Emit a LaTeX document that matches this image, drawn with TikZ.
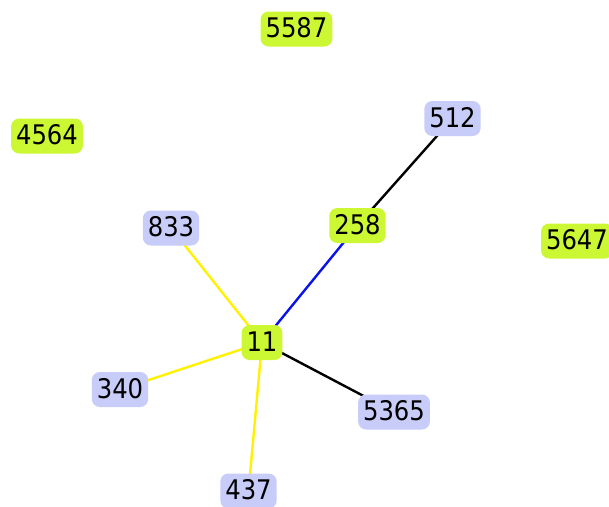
\documentclass[tikz,border=0pt]{standalone}
\usepackage{fontspec}
\setmainfont{DejaVu Sans Condensed}
\usetikzlibrary{backgrounds}
\definecolor{ngreen}{HTML}{CCF733}
\definecolor{nblue}{HTML}{C8CCF8}
\definecolor{eyellow}{HTML}{FFF200}
\definecolor{eblue}{HTML}{0A14E6}
\tikzset{
  vbox/.style={rounded corners=8pt, inner xsep=5pt, inner ysep=0pt, minimum height=35pt,
     font=\fontsize{27}{27}\selectfont, text height=20pt, text depth=3pt, anchor=center},
  gnode/.style={vbox, fill=ngreen},
  bnode/.style={vbox, fill=nblue},
  edge/.style={line width=2.4pt},
}
\begin{document}
\begin{tikzpicture}[x=1pt,y=-1pt]
\useasboundingbox (0,0) rectangle (609,506);
\node[gnode] (n5587) at (296.5,29) {5587};
\node[gnode] (n4564) at (47,136) {4564};
\node[bnode] (n512) at (452.5,118.5) {512};
\node[gnode] (n258) at (357.5,225.5) {258};
\node[bnode] (n833) at (171,228) {833};
\node[gnode] (n5647) at (577,241) {5647};
\node[gnode] (n11) at (262,342.5) {11};
\node[bnode] (n340) at (120,389.5) {340};
\node[bnode] (n5365) at (394,412) {5365};
\node[bnode] (n437) at (248.5,491) {437};
\begin{scope}[on background layer]
\draw[edge, black] (n512.center) -- (n258.center);
\draw[edge, eblue] (n258.center) -- (n11.center);
\draw[edge, eyellow] (n11.center) -- (n833.center);
\draw[edge, eyellow] (n11.center) -- (n340.center);
\draw[edge, eyellow] (n11.center) -- (n437.center);
\draw[edge, black] (n11.center) -- (n5365.center);
\end{scope}
\end{tikzpicture}
\end{document}
